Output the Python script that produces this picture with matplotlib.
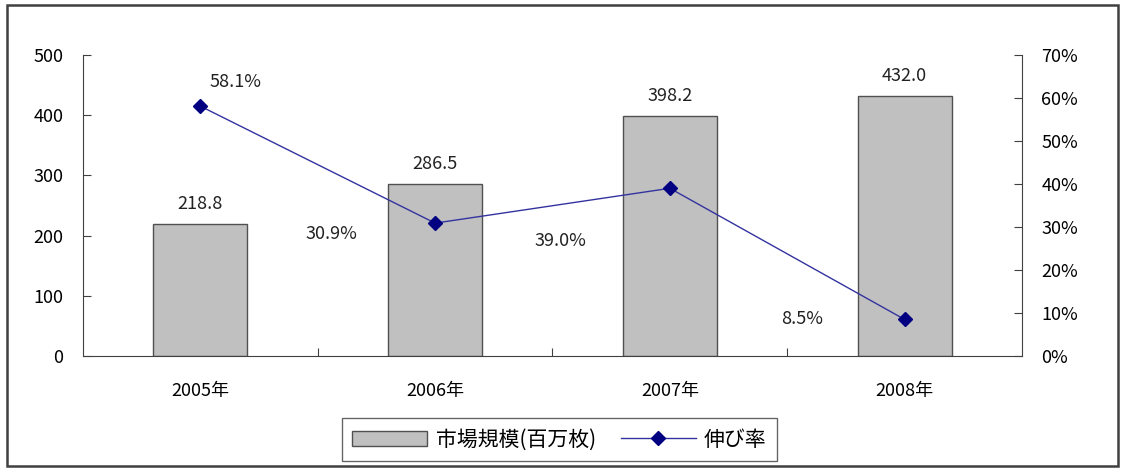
import matplotlib
matplotlib.use('Agg')
import matplotlib.pyplot as plt
from matplotlib.patches import Rectangle
from matplotlib.ticker import FuncFormatter, FixedLocator

plt.rcParams['font.family'] = ['Noto Sans CJK JP', 'DejaVu Sans']

# Data
years = ['2005年', '2006年', '2007年', '2008年']
market_size = [218.8, 286.5, 398.2, 432.0]
growth = [0.581, 0.309, 0.390, 0.085]
growth_labels = ['58.1%', '30.9%', '39.0%', '8.5%']
size_label = '市場規模(百万枚)'
growth_label = '伸び率'

# Pixel offsets for the growth labels (Excel put them in odd places)
growth_offsets = [(35, 24), (-104, -11), (-109, -53), (-102, 0)]

fig = plt.figure(figsize=(11.28, 4.71), dpi=100)
fig.patch.set_facecolor('white')
fig.add_artist(Rectangle((0.006, 0.01), 0.985, 0.98, transform=fig.transFigure,
                         fill=False, edgecolor='#404040', linewidth=1.8, zorder=10))

ax = fig.add_axes([0.0736, 0.2442, 0.8324, 0.639])
x = list(range(len(years)))
ax.bar(x, market_size, width=0.4, color='#c0c0c0', edgecolor='#505050', linewidth=1.0, zorder=2)
for xi, v in zip(x, market_size):
    ax.annotate(f'{v:.1f}', (xi, v), xytext=(0, 20), textcoords='offset pixels',
                ha='center', va='center', fontsize=13, color='#222222')

ax.set_xlim(-0.5, 3.5)
ax.set_ylim(0, 500)
ax.set_yticks([0, 100, 200, 300, 400, 500])
ax.xaxis.set_major_locator(FixedLocator([0.5, 1.5, 2.5]))
ax.xaxis.set_ticklabels([])
ax.xaxis.set_minor_locator(FixedLocator(x))
ax.set_xticklabels(years, minor=True)
ax.tick_params(axis='x', which='major', direction='in', length=6, color='#404040')
ax.tick_params(axis='x', which='minor', length=0, pad=19, labelsize=13)
ax.tick_params(axis='y', direction='in', length=6, pad=14, labelsize=13, color='#404040')
ax.spines['top'].set_visible(False)
ax.spines['right'].set_visible(False)
for s in ['left', 'bottom']:
    ax.spines[s].set_color('#404040')

ax2 = ax.twinx()
ax2.plot(x, growth, color='#3333a0', linewidth=1.0, marker='D', markersize=7,
         markerfacecolor='#000080', markeredgecolor='#000080', zorder=3)
for xi, v, lab, off in zip(x, growth, growth_labels, growth_offsets):
    ax2.annotate(lab, (xi, v), xytext=off, textcoords='offset pixels',
                 ha='center', va='center', fontsize=13, color='#222222')
ax2.set_ylim(0, 0.7)
ax2.set_yticks([i / 10 for i in range(8)])
ax2.yaxis.set_major_formatter(FuncFormatter(lambda v, p: f'{v * 100:.0f}%'))
ax2.tick_params(axis='y', direction='in', length=6, pad=14, labelsize=13, color='#404040')
ax2.spines['top'].set_visible(False)
ax2.spines['left'].set_visible(False)
ax2.spines['bottom'].set_visible(False)
ax2.spines['right'].set_color('#404040')

bar_handle = Rectangle((0, 0), 1, 1, facecolor='#c0c0c0', edgecolor='#505050')
line_handle = plt.Line2D([], [], color='#3333a0', linewidth=1.0, marker='D', markersize=7,
                         markerfacecolor='#000080', markeredgecolor='#000080')
leg = fig.legend([bar_handle, line_handle], [size_label, growth_label],
                 loc='upper center', bbox_to_anchor=(0.496, 0.112), ncol=2, fontsize=15,
                 frameon=True, fancybox=False, edgecolor='#404040', handlelength=3.6,
                 handletextpad=0.4, columnspacing=1.2, borderpad=0.5, borderaxespad=0)
leg.get_frame().set_linewidth(1.0)

fig.savefig('out.png', dpi=100)
